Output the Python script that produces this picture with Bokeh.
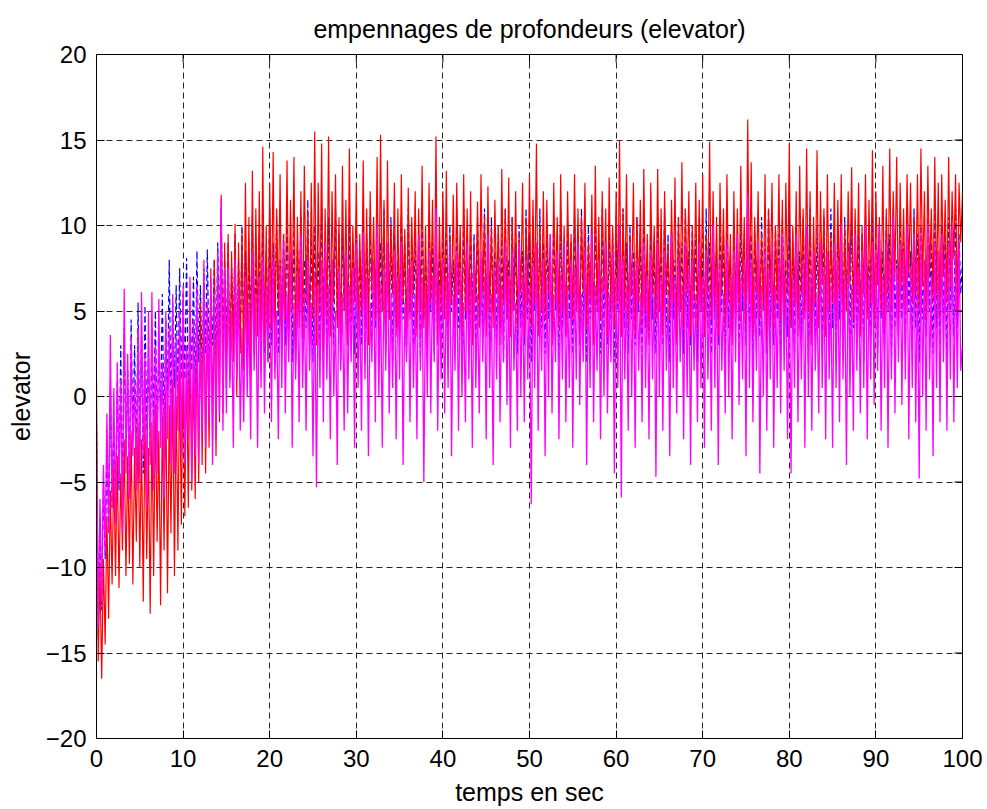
import numpy as np
from bokeh.plotting import figure
from bokeh.models import FixedTicker, ColumnDataSource
from bokeh.embed import file_html
from bokeh.resources import INLINE

title_text = "empennages de profondeurs (elevator)"
x_label = "temps en sec"
y_label = "elevator"
x_ticks = [0, 10, 20, 30, 40, 50, 60, 70, 80, 90, 100]
y_ticks = [-20, -15, -10, -5, 0, 5, 10, 15, 20]
sample_step = 0.2  # seconds between samples

red = [
    1.0, -15.5, -10.0, -16.5, -9.5, -14.5, -7.0, -13.0, -5.5, -11.0, -4.0, -10.5, -3.5, -11.2, -4.5, -9.0, -2.5, -10.5, -3.5, -9.8, -2.0, -11.0, -3.0, -8.5, -1.5,
    -10.0, -2.5, -12.0, -1.0, -9.5, -3.0, -12.7, -1.5, -10.5, -0.5, -8.5, -2.0, -12.2, -1.0, -9.0, 0.5, -11.5, -0.5, -8.0, 1.0, -10.5, 0.0, -9.0, 1.5, -7.5,
    2.0, -7.0, 2.5, -6.5, 3.0, -5.5, 1.5, -6.0, 4.0, -5.0, 5.5, -4.0, 6.5, -4.5, 5.0, -3.0, 7.5, -2.5, 8.0, -3.5, 7.0, -1.5, 11.8, -1.0, 9.0,
    0.5, 9.5, 1.0, 8.5, 2.0, 10.1, 0.0, 9.0, 2.5, 9.8, 1.5, 12.5, 3.0, 10.5, 1.0, 13.2, 2.5, 11.0, 3.5, 12.0, 1.5, 14.6, 3.0, 10.0, 2.0,
    12.5, 4.0, 14.3, 3.0, 11.0, 5.0, 13.0, 2.5, 9.5, 4.5, 13.8, 3.5, 11.5, 5.0, 14.0, 2.0, 10.5, 4.0, 12.0, 3.5, 13.5, 5.5, 10.8, 3.0, 12.5,
    4.5, 15.5, 3.0, 12.5, 5.0, 14.8, 2.5, 11.0, 4.5, 15.2, 3.5, 12.0, 5.5, 13.0, 4.0, 10.5, 2.5, 13.5, 5.0, 11.5, 3.0, 14.5, 4.5, 10.0, 5.5,
    12.5, 3.5, 9.5, 5.0, 13.8, 4.0, 11.0, 3.0, 12.0, 6.0, 10.5, 4.5, 14.0, 3.5, 15.3, 5.0, 11.5, 2.5, 13.8, 4.5, 10.0, 6.0, 12.5, 3.5, 11.0,
    4.0, 13.0, 5.5, 9.8, 3.0, 12.2, 4.5, 10.5, 6.0, 12.0, 3.5, 11.0, 5.0, 13.5, 4.0, 10.0, 2.5, 12.5, 5.5, 11.5, 4.0, 15.2, 3.0, 10.5, 5.0,
    12.0, 4.5, 13.2, 3.0, 9.5, 5.5, 11.8, 4.0, 12.5, 6.0, 10.0, 3.5, 13.0, 5.0, 11.0, 4.5, 12.0, 3.0, 9.0, 5.5, 11.4, 4.0, 13.0, 6.0, 10.5,
    3.5, 12.3, 5.0, 9.8, 4.0, 11.5, 6.0, 10.0, 3.0, 13.3, 5.5, 11.0, 4.5, 12.8, 3.5, 10.5, 5.0, 12.0, 4.0, 9.5, 6.0, 12.5, 3.5, 10.5, 5.5,
    13.0, 4.0, 11.5, 5.5, 14.8, 3.5, 10.0, 5.0, 12.0, 4.5, 11.5, 6.0, 9.5, 3.0, 12.5, 5.5, 10.5, 4.0, 13.0, 5.0, 10.0, 3.5, 12.0, 6.0, 9.5,
    4.5, 13.0, 5.0, 11.0, 3.5, 10.5, 6.0, 12.5, 4.0, 9.0, 5.5, 11.8, 3.0, 13.5, 5.0, 10.5, 4.5, 12.0, 6.0, 11.0, 3.5, 12.8, 5.0, 10.0, 4.0,
    12.0, 5.5, 15.0, 3.5, 11.0, 5.0, 13.0, 4.0, 9.5, 6.0, 12.5, 3.5, 10.5, 5.5, 11.5, 4.0, 13.3, 5.0, 9.5, 3.0, 12.5, 6.0, 10.0, 4.5, 13.3,
    5.0, 11.0, 3.5, 12.0, 6.0, 9.0, 4.5, 11.5, 5.5, 12.8, 3.0, 10.5, 5.0, 13.7, 4.0, 11.0, 6.0, 12.0, 3.5, 10.0, 5.5, 12.5, 4.0, 11.5, 5.0,
    13.0, 3.5, 9.5, 6.0, 14.9, 4.5, 12.0, 5.0, 10.5, 3.5, 12.5, 6.0, 11.0, 4.0, 13.0, 5.5, 9.5, 3.0, 12.0, 5.0, 11.0, 4.5, 13.5, 6.0, 10.5,
    4.0, 16.2, 5.5, 13.7, 3.5, 10.5, 6.0, 12.0, 4.5, 9.5, 5.0, 13.0, 3.0, 11.0, 6.0, 12.5, 4.0, 10.0, 5.5, 13.0, 4.5, 11.5, 3.5, 12.5, 6.0,
    14.8, 4.0, 10.0, 5.5, 12.0, 3.5, 13.5, 6.0, 11.0, 4.5, 14.5, 5.0, 12.0, 3.0, 10.5, 5.5, 14.4, 4.0, 12.0, 6.5, 11.0, 3.5, 13.0, 5.0, 9.5,
    5.5, 12.5, 4.0, 11.5, 6.0, 13.0, 3.5, 10.0, 5.0, 12.0, 6.5, 13.4, 4.5, 11.0, 5.5, 12.5, 3.5, 10.0, 6.0, 13.0, 4.5, 11.5, 5.5, 14.4, 4.0,
    12.0, 6.5, 10.5, 5.0, 13.5, 4.0, 11.0, 6.0, 14.5, 5.0, 12.0, 7.0, 14.0, 4.5, 12.5, 6.5, 11.0, 5.0, 13.0, 7.0, 12.5, 5.5, 10.5, 6.0, 13.0,
    5.0, 14.5, 6.5, 12.0, 4.5, 13.5, 7.0, 11.0, 5.5, 14.0, 6.0, 12.5, 4.5, 13.0, 7.0, 11.5, 5.5, 14.0, 6.5, 12.0, 8.0, 13.0, 5.0, 12.5, 9.0,
    12.0,
]

magenta = [
    -2.0, -13.5, -6.0, -12.0, -4.0, -9.0, -1.0, -8.0, 3.6, -6.5, 0.5, -7.5, 2.0, -5.0, 1.0, -8.0, 6.3, -4.5, 2.5, -6.0, 3.5, -3.5, 1.0, -5.5, 4.0,
    -5.0, 6.1, -3.5, 2.5, -6.5, 5.0, -4.0, 6.1, -5.5, 3.0, -4.5, 5.7, -3.0, 2.0, -6.0, 5.0, -2.5, 4.0, -4.0, 6.0, -4.5, 3.5, -2.0, 5.0, -3.5,
    6.5, -4.0, 3.0, -2.5, 7.0, -5.0, 4.5, -3.5, 6.5, -4.0, 3.0, -2.0, 8.0, -3.0, 5.5, -1.5, 7.0, -4.0, 6.0, -2.5, 8.5, -1.0, 11.6, -2.0, 7.5,
    -1.0, 7.5, 0.5, 5.0, -3.0, 8.0, 1.0, 6.5, -2.0, 4.0, -1.5, 7.0, 0.0, 5.5, -2.5, 8.5, 1.5, 6.0, -3.0, 7.0, 0.5, 8.0, -1.0, 6.5, 2.0,
    7.5, -1.5, 8.0, 1.0, 5.0, -2.5, 7.5, 0.5, 9.0, -1.0, 6.0, 2.0, 8.5, -3.0, 5.5, 1.0, 7.0, -1.5, 9.5, 0.5, 6.0, -2.0, 8.0, 1.5, 5.5,
    -3.5, 7.0, -5.3, 6.5, 0.5, 8.0, -1.5, 9.0, 1.0, 6.5, -2.5, 8.0, 0.0, 5.0, -4.0, 7.5, 1.5, 6.0, -2.0, 8.5, -1.0, 6.5, 2.0, 7.5, -3.0,
    9.0, 0.5, 6.0, -2.0, 9.5, 1.0, 7.0, -3.5, 5.5, 2.0, 8.0, -1.5, 10.0, 0.0, 6.5, -3.0, 7.5, 1.5, 9.0, -1.0, 6.0, 0.5, 8.5, -2.5, 7.0,
    1.0, 9.0, -4.0, 5.5, 2.0, 7.5, -1.5, 8.0, 0.5, 6.0, -2.5, 9.5, 1.5, 7.0, -5.0, 6.5, 0.0, 8.5, -1.0, 7.0, 2.0, 11.0, -2.0, 6.5, 1.0,
    8.0, -1.0, 7.0, 0.5, 9.0, -3.5, 6.0, 1.5, 8.5, -2.0, 7.5, 0.0, 5.5, -1.5, 9.0, 1.0, 7.0, -3.0, 8.5, 0.5, 6.0, -1.0, 8.5, 2.0, 7.0,
    -2.5, 9.5, 0.5, 6.0, -4.0, 7.5, 1.0, 8.0, -1.5, 6.5, 2.0, 9.0, -0.5, 7.0, -3.0, 8.5, 1.5, 5.5, -2.0, 9.0, 0.0, 7.0, -1.5, 8.0, 1.0,
    6.5, -6.3, 7.5, 0.5, 9.0, -2.0, 6.0, 1.5, 8.0, -3.5, 7.0, 0.0, 9.5, -1.0, 6.0, 2.0, 8.5, -2.5, 7.0, 1.0, 9.0, -1.5, 6.5, 0.5, 8.0,
    -3.0, 7.5, 1.0, 9.0, -0.5, 6.0, 2.0, 8.5, -4.0, 7.0, 0.5, 9.5, -1.5, 6.5, 1.5, 8.0, -2.5, 7.0, 0.0, 9.0, -1.0, 6.0, 2.0, 8.5, -4.5,
    7.0, 0.5, 10.0, -5.9, 8.0, 1.0, 6.5, -2.0, 9.0, 0.0, 7.5, -3.0, 8.0, 1.5, 6.0, -1.5, 9.0, 0.5, 7.0, -2.5, 8.5, 1.0, 6.5, -4.7, 9.0,
    0.0, 7.0, -2.0, 8.5, 1.5, 6.0, -3.5, 9.5, 0.5, 7.0, -1.0, 8.0, 2.0, 6.5, -2.5, 9.0, 0.0, 7.5, -4.0, 8.0, 1.5, 6.0, -1.5, 9.0, 0.5,
    7.0, -3.0, 8.5, 1.0, 6.5, -2.0, 10.0, 0.5, 7.5, -4.0, 8.0, 1.5, 6.0, -1.0, 9.0, 0.0, 7.0, -2.5, 8.5, 2.0, 9.5, -0.5, 7.0, 1.0, 8.0,
    -3.5, 11.9, 0.5, 8.0, -1.5, 7.0, 1.5, 9.0, -4.5, 6.5, 0.0, 8.5, -2.0, 7.5, 1.0, 9.0, -3.0, 6.5, 0.5, 8.0, -1.0, 9.5, 1.5, 7.0, -2.5,
    8.0, -4.5, 7.0, 0.5, 9.5, -1.5, 6.5, 1.0, 8.0, -3.0, 10.0, 0.0, 7.0, -2.0, 8.5, 1.5, 6.0, -1.0, 9.0, 0.5, 7.5, -2.5, 8.5, 1.0, 6.5,
    -3.0, 9.0, 0.5, 8.0, -1.5, 10.0, 1.0, 7.0, -4.0, 8.5, 0.0, 6.5, -2.0, 9.5, 1.5, 7.5, -1.0, 8.5, 0.5, 10.0, -2.5, 7.0, 1.0, 9.0, -0.5,
    8.5, 1.5, 10.0, -2.0, 7.0, 0.5, 9.0, -3.0, 8.0, 1.0, 10.5, -1.0, 7.5, 2.0, 9.0, -0.5, 8.5, 1.0, 10.0, -2.5, 7.5, 0.5, 9.5, -1.5, 8.0,
    -4.8, 9.5, 0.0, 8.0, -2.0, 10.0, 1.0, 7.0, -3.5, 9.0, 0.5, 8.5, -1.5, 9.5, 2.0, 8.0, -2.0, 9.0, 1.0, 10.0, -1.5, 8.5, 0.5, 9.0, 1.5,
    3.0,
]

blue = [
    -1.0, -14.2, -7.0, -12.5, -5.0, -9.5, -3.0, -8.0, 0.5, -6.5, -2.0, -6.0, 1.0, -5.5, 3.0, -6.5, 4.0, -3.5, 1.5, -5.0, 4.5, -2.5, 3.0, -4.0, 5.5,
    -3.0, 3.5, -4.5, 5.3, -2.0, 2.5, -3.5, 4.0, -1.5, 5.0, -2.5, 3.0, -1.0, 6.0, -2.0, 4.5, 0.0, 8.0, -1.0, 5.5, 0.5, 6.5, -0.5, 7.5, 1.0,
    6.0, 1.0, 8.1, -0.5, 5.0, 1.5, 7.0, 0.0, 8.5, 2.0, 6.5, 1.0, 7.5, 2.5, 8.6, 1.5, 6.0, 3.0, 8.0, 2.0, 9.0, 3.5, 11.0, 2.5, 8.0,
    3.0, 9.0, 2.0, 7.5, 3.5, 9.5, 1.5, 8.0, 3.0, 10.0, 3.5, 8.5, 2.0, 9.0, 4.0, 10.5, 2.5, 8.0, 4.0, 9.5, 3.0, 10.0, 2.5, 8.5, 4.0,
    11.0, 3.0, 9.0, 4.5, 10.5, 2.5, 8.0, 4.0, 9.5, 3.0, 11.0, 4.5, 8.5, 2.0, 10.0, 3.5, 9.0, 5.0, 10.5, 2.5, 8.0, 4.0, 11.5, 3.5, 9.5,
    2.0, 10.0, 4.5, 8.5, 3.0, 11.0, 5.0, 9.0, 2.5, 10.5, 4.0, 8.0, 3.0, 11.0, 4.5, 9.5, 2.0, 10.0, 5.0, 8.5, 3.5, 10.5, 4.0, 9.0, 2.5,
    10.0, 4.5, 8.5, 3.0, 11.0, 2.0, 9.5, 5.0, 10.5, 3.5, 8.0, 4.0, 10.0, 2.5, 9.0, 5.0, 11.0, 3.0, 8.5, 4.5, 10.5, 2.0, 9.5, 4.0, 8.0,
    3.5, 10.5, 4.5, 9.0, 2.5, 11.0, 5.0, 8.5, 3.0, 10.0, 4.0, 9.5, 2.0, 11.0, 4.5, 8.0, 3.5, 10.5, 5.0, 9.0, 2.5, 10.0, 4.0, 8.5, 3.0,
    11.0, 4.5, 9.5, 2.5, 10.0, 5.0, 8.0, 3.5, 10.5, 4.0, 9.0, 2.0, 11.0, 4.5, 8.5, 3.0, 10.0, 5.0, 9.5, 2.5, 10.5, 4.0, 8.0, 3.5, 11.0,
    4.5, 9.0, 2.5, 10.5, 5.0, 8.5, 3.0, 10.0, 4.0, 9.5, 2.0, 11.0, 4.5, 8.0, 3.5, 10.5, 5.0, 9.0, 2.5, 10.0, 4.0, 8.5, 3.0, 11.0, 4.5,
    9.5, 2.0, 10.5, 5.0, 8.0, 3.5, 11.0, 4.0, 9.0, 2.5, 10.0, 4.5, 8.5, 3.0, 10.5, 5.0, 9.5, 2.0, 11.0, 4.0, 8.0, 3.5, 10.0, 4.5, 9.0,
    2.5, 10.5, 5.0, 8.5, 3.0, 11.0, 4.0, 9.5, 2.0, 10.0, 4.5, 8.0, 3.5, 10.5, 5.0, 9.0, 2.5, 11.0, 4.0, 8.5, 3.0, 10.0, 4.5, 9.5, 2.0,
    10.5, 5.0, 8.0, 3.5, 11.0, 4.0, 9.0, 2.5, 10.0, 4.5, 8.5, 3.0, 10.5, 5.0, 9.5, 2.0, 11.0, 4.0, 8.0, 3.5, 10.0, 4.5, 9.0, 2.5, 10.5,
    5.0, 8.5, 3.0, 11.0, 4.0, 9.5, 2.0, 10.0, 4.5, 8.0, 3.5, 10.5, 5.0, 9.0, 2.5, 11.0, 4.0, 8.5, 3.0, 10.0, 4.5, 9.5, 2.0, 10.5, 5.0,
    8.0, 3.5, 11.0, 4.0, 9.0, 2.5, 10.0, 4.5, 8.5, 3.0, 10.5, 5.0, 9.5, 2.0, 11.0, 4.0, 8.0, 3.5, 10.0, 4.5, 9.0, 2.5, 10.5, 5.0, 8.5,
    3.0, 12.0, 4.0, 9.5, 2.0, 10.0, 4.5, 8.0, 3.5, 10.5, 5.0, 9.0, 2.5, 11.0, 4.0, 8.5, 3.0, 10.0, 4.5, 9.5, 2.0, 10.5, 5.0, 8.0, 3.5,
    11.0, 4.0, 9.0, 2.5, 10.0, 4.5, 8.5, 3.0, 10.5, 5.0, 9.5, 2.0, 11.0, 4.0, 8.0, 3.5, 10.0, 4.5, 9.0, 2.5, 10.5, 5.0, 8.5, 3.0, 11.0,
    4.0, 9.5, 2.0, 10.0, 4.5, 8.0, 3.5, 10.5, 5.0, 9.0, 2.5, 11.0, 4.0, 8.5, 3.0, 10.0, 4.5, 9.5, 2.0, 10.5, 5.0, 8.0, 3.5, 11.0, 4.0,
    9.0, 2.5, 10.0, 4.5, 8.5, 3.0, 10.5, 5.0, 9.5, 2.0, 11.0, 4.0, 8.0, 3.5, 10.0, 4.5, 9.0, 2.5, 10.5, 5.0, 8.5, 3.0, 11.0, 4.0, 9.5,
    2.0, 10.0, 4.5, 8.0, 3.5, 10.5, 5.0, 9.0, 2.5, 11.0, 4.0, 8.5, 3.0, 10.0, 4.5, 9.5, 2.0, 10.5, 5.0, 8.0, 3.5, 11.0, 4.0, 9.5, 6.0,
    8.0,
]

src_r = ColumnDataSource(dict(t=np.arange(len(red)) * sample_step, v=red))
src_m = ColumnDataSource(dict(t=np.arange(len(magenta)) * sample_step, v=magenta))
src_b = ColumnDataSource(dict(t=np.arange(len(blue)) * sample_step, v=blue))

FONT = "Liberation Sans"

p = figure(width=987, height=809, x_range=(x_ticks[0], x_ticks[-1]), y_range=(y_ticks[0], y_ticks[-1]),
           output_backend="svg", toolbar_location=None,
           min_border_left=96, min_border_right=25, min_border_top=54, min_border_bottom=71)
p.background_fill_color = "white"
p.border_fill_color = "white"
p.outline_line_color = "black"
p.outline_line_width = 1

p.title.text = title_text
p.title.align = "center"
p.title.text_font = FONT
p.title.text_font_size = "25px"
p.title.text_font_style = "normal"
p.title.text_color = "black"
p.title.text_line_height = 1.0
p.title.standoff = 24

for ax, ticks in ((p.xaxis[0], x_ticks), (p.yaxis[0], y_ticks)):
    ax.ticker = FixedTicker(ticks=ticks)
    ax.major_tick_in = 8
    ax.major_tick_out = 0
    ax.minor_tick_line_color = None
    ax.major_label_text_font = FONT
    ax.major_label_text_font_size = "24px"
    ax.major_label_text_color = "black"
    ax.major_label_text_line_height = 1.0
    ax.axis_label_text_font = FONT
    ax.axis_label_text_font_size = "25px"
    ax.axis_label_text_font_style = "normal"
    ax.axis_label_text_color = "black"
    ax.axis_label_text_line_height = 1.0
    ax.axis_line_color = "black"
    ax.major_tick_line_color = "black"
p.xaxis.axis_label = x_label
p.yaxis.axis_label = y_label
p.xaxis.major_label_standoff = 11
p.yaxis.major_label_standoff = 10
p.xaxis.axis_label_standoff = 8
p.yaxis.axis_label_standoff = 8

p.xgrid.ticker = FixedTicker(ticks=x_ticks)
p.ygrid.ticker = FixedTicker(ticks=y_ticks)
for g in (p.xgrid[0], p.ygrid[0]):
    g.grid_line_color = "black"
    g.grid_line_dash = "6 4"
    g.grid_line_alpha = 0.85
    g.grid_line_width = 1

p.line("t", "v", source=src_b, color="blue", line_width=1.2, line_dash="6 3")
p.line("t", "v", source=src_r, color="red", line_width=1.2)
p.line("t", "v", source=src_m, color="magenta", line_width=1.3)

# inward tick marks on the top and right edges of the box (MATLAB style)
p.ray(x=x_ticks, y=[y_ticks[-1]] * len(x_ticks), length=8, length_units="screen",
      angle=-np.pi / 2, color="black", line_width=1)
p.ray(x=[x_ticks[-1]] * len(y_ticks), y=y_ticks, length=8, length_units="screen",
      angle=np.pi, color="black", line_width=1)

open("out.html", "w").write(file_html(p, INLINE))
